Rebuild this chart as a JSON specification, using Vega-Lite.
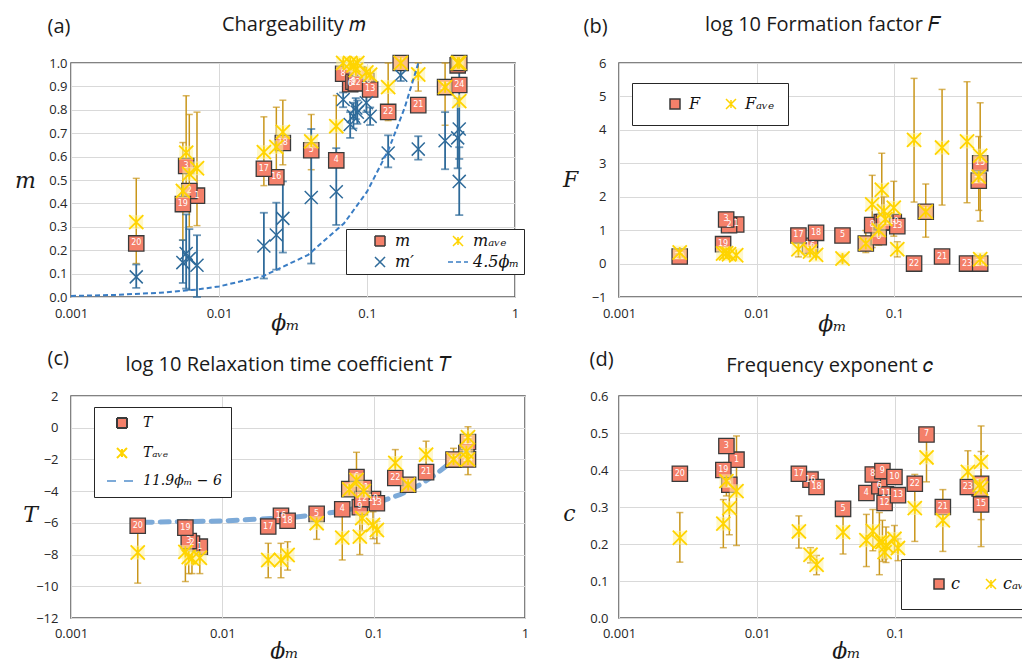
{
"$schema": "https://vega.github.io/schema/vega-lite/v6.json",
"background": "white",
"padding": {"left": 13, "top": 13, "right": 0, "bottom": 0},
"datasets": {
"s": [
{"id":"1","phi":0.0071,"m":0.433,"ma":0.55,"maL":0.305,"maH":0.79,"mp":0.136,"mpL":0.0,"mpH":0.264,"F":1.17,"Fa":0.25,"T":-7.5,"Ta":-8.2,"TaL":-9.2,"TaH":-7.5,"c":0.428,"ca":0.343,"caL":0.196,"caH":0.492},
{"id":"2","phi":0.0063,"m":0.453,"ma":0.526,"maL":0.3,"maH":0.78,"mp":0.164,"mpL":0.03,"mpH":0.29,"F":1.15,"Fa":0.28,"T":-7.3,"Ta":-8.25,"TaL":-9.2,"TaH":-7.3,"c":0.36,"ca":0.297,"caL":0.225,"caH":0.36},
{"id":"3","phi":0.006,"m":0.56,"ma":0.617,"maL":0.45,"maH":0.86,"mp":0.186,"mpL":0.036,"mpH":0.353,"F":1.32,"Fa":0.31,"T":-7.15,"Ta":-8.15,"TaL":-9.2,"TaH":-7.2,"c":0.465,"ca":0.37,"caL":0.33,"caH":0.42},
{"id":"4","phi":0.062,"m":0.584,"ma":0.73,"maL":0.594,"maH":0.861,"mp":0.45,"mpL":0.308,"mpH":0.636,"F":0.6,"Fa":0.6,"FaL":0.33,"FaH":0.99,"T":-5.14,"Ta":-6.93,"TaL":-8.34,"TaH":-5.4,"c":0.338,"ca":0.21,"caL":0.139,"caH":0.28},
{"id":"5","phi":0.042,"m":0.627,"ma":0.665,"maL":0.544,"maH":0.78,"mp":0.425,"mpL":0.143,"mpH":0.718,"F":0.84,"Fa":0.15,"FaL":0.05,"FaH":0.25,"T":-5.43,"Ta":-6.02,"TaL":-7.04,"TaH":-5.4,"c":0.295,"ca":0.232,"caL":0.173,"caH":0.295},
{"id":"6","phi":0.077,"m":0.909,"ma":1.0,"mp":0.737,"mpL":0.68,"mpH":0.79,"F":0.79,"Fa":1.0,"FaL":0.55,"FaH":1.45,"T":-3.11,"Ta":-3.3,"TaL":-5.0,"TaH":-1.55,"c":0.356,"ca":0.205,"caL":0.117,"caH":0.285},
{"id":"7","phi":0.169,"m":1.0,"ma":1.0,"mp":0.948,"mpL":0.923,"mpH":0.98,"F":1.55,"Fa":1.55,"FaL":0.79,"FaH":2.38,"T":-3.6,"Ta":-3.6,"c":0.496,"ca":0.434,"caL":0.368,"caH":0.5},
{"id":"8","phi":0.069,"m":0.954,"ma":1.0,"mp":0.844,"mpL":0.811,"mpH":0.874,"F":1.15,"Fa":1.77,"FaL":0.48,"FaH":2.64,"T":-3.87,"Ta":-3.9,"c":0.388,"ca":0.235,"caL":0.182,"caH":0.293},
{"id":"9","phi":0.081,"m":0.92,"ma":0.99,"mp":0.772,"mpL":0.72,"mpH":0.83,"F":1.24,"Fa":2.21,"FaL":1.0,"FaH":3.3,"T":-5.01,"Ta":-6.87,"TaL":-8.0,"TaH":-4.9,"c":0.397,"ca":0.205,"caL":0.153,"caH":0.264},
{"id":"10","phi":0.099,"m":0.923,"ma":0.96,"mp":0.83,"mpL":0.79,"mpH":0.87,"F":1.24,"Fa":1.67,"FaL":0.82,"FaH":2.46,"T":-4.5,"Ta":-6.13,"TaL":-7.0,"TaH":-5.3,"c":0.381,"ca":0.214,"caL":0.178,"caH":0.25},
{"id":"11","phi":0.086,"m":0.951,"ma":1.0,"mp":0.79,"mpL":0.74,"mpH":0.84,"F":1.24,"Fa":1.33,"T":-3.8,"Ta":-4.0,"c":0.334,"ca":0.196,"caL":0.15,"caH":0.246},
{"id":"12","phi":0.084,"m":0.913,"ma":0.97,"mp":0.808,"mpL":0.76,"mpH":0.85,"F":1.24,"Fa":1.57,"FaL":1.0,"FaH":2.0,"T":-4.5,"Ta":-5.7,"TaL":-6.5,"TaH":-4.2,"c":0.311,"ca":0.178,"caL":0.16,"caH":0.2},
{"id":"13","phi":0.105,"m":0.887,"ma":0.95,"mp":0.772,"mpL":0.735,"mpH":0.81,"F":1.12,"Fa":0.43,"FaL":0.2,"FaH":0.65,"T":-4.76,"Ta":-6.45,"TaL":-7.3,"TaH":-5.9,"c":0.332,"ca":0.189,"caL":0.155,"caH":0.214},
{"id":"14","phi":0.41,"m":0.99,"ma":1.0,"mp":0.68,"mpL":0.55,"mpH":0.85,"F":2.48,"Fa":2.6,"FaL":1.59,"FaH":3.8,"T":-1.6,"Ta":-1.5,"c":0.35,"ca":0.36},
{"id":"15","phi":0.42,"m":1.0,"ma":1.0,"mp":0.718,"mpL":0.59,"mpH":0.97,"F":3.0,"Fa":3.23,"FaL":1.27,"FaH":4.81,"T":-0.9,"Ta":-0.6,"TaL":-2.96,"TaH":0.06,"c":0.307,"ca":0.35,"caL":0.266,"caH":0.45},
{"id":"16","phi":0.0244,"m":0.512,"ma":0.641,"maL":0.5,"maH":0.811,"mp":0.265,"mpL":0.117,"mpH":0.403,"F":0.53,"Fa":0.36,"FaL":0.2,"FaH":0.5,"T":-5.56,"Ta":-8.34,"TaL":-9.46,"TaH":-7.29,"c":0.374,"ca":0.171,"caL":0.149,"caH":0.19},
{"id":"17","phi":0.0201,"m":0.548,"ma":0.619,"maL":0.476,"maH":0.77,"mp":0.218,"mpL":0.079,"mpH":0.36,"F":0.84,"Fa":0.43,"FaL":0.2,"FaH":0.6,"T":-6.23,"Ta":-8.34,"TaL":-9.46,"TaH":-7.29,"c":0.39,"ca":0.234,"caL":0.189,"caH":0.276},
{"id":"18","phi":0.027,"m":0.658,"ma":0.705,"maL":0.565,"maH":0.841,"mp":0.336,"mpL":0.19,"mpH":0.494,"F":0.92,"Fa":0.26,"FaL":0.2,"FaH":0.35,"T":-5.87,"Ta":-8.03,"TaL":-8.98,"TaH":-7.19,"c":0.354,"ca":0.144,"caL":0.117,"caH":0.169},
{"id":"19","phi":0.0057,"m":0.397,"ma":0.453,"maL":0.243,"maH":0.66,"mp":0.147,"mpL":0.06,"mpH":0.243,"F":0.58,"Fa":0.3,"T":-6.3,"Ta":-7.83,"TaL":-9.7,"TaH":-6.3,"c":0.4,"ca":0.255,"caL":0.19,"caH":0.32},
{"id":"20","phi":0.00276,"m":0.229,"ma":0.32,"maL":0.143,"maH":0.507,"mp":0.086,"mpL":0.039,"mpH":0.139,"F":0.21,"Fa":0.33,"T":-6.18,"Ta":-7.87,"TaL":-9.8,"TaH":-6.2,"c":0.39,"ca":0.217,"caL":0.151,"caH":0.285},
{"id":"21","phi":0.222,"m":0.82,"ma":0.951,"maL":0.88,"maH":1.0,"mp":0.632,"mpL":0.587,"mpH":0.687,"F":0.21,"Fa":3.47,"FaL":1.75,"FaH":5.21,"T":-2.8,"Ta":-1.7,"TaL":-2.54,"TaH":-0.85,"c":0.3,"ca":0.264,"caL":0.18,"caH":0.347},
{"id":"22","phi":0.139,"m":0.791,"ma":0.897,"maL":0.754,"maH":1.0,"mp":0.615,"mpL":0.554,"mpH":0.691,"F":0.0,"Fa":3.7,"FaL":1.84,"FaH":5.54,"T":-3.17,"Ta":-2.22,"TaL":-3.13,"TaH":-1.38,"c":0.363,"ca":0.297,"caL":0.207,"caH":0.388},
{"id":"23","phi":0.337,"m":0.897,"ma":0.897,"maL":0.734,"maH":1.0,"mp":0.668,"mpL":0.546,"mpH":0.79,"F":0.0,"Fa":3.65,"FaL":1.82,"FaH":5.44,"T":-2.01,"Ta":-2.0,"TaL":-2.4,"TaH":-1.3,"c":0.354,"ca":0.395,"caL":0.338,"caH":0.452},
{"id":"24","phi":0.42,"m":0.906,"ma":0.837,"mp":0.494,"mpL":0.35,"mpH":0.64,"F":0.0,"Fa":0.13,"T":-2.0,"Ta":-2.0,"c":0.363,"ca":0.422,"caL":0.193,"caH":0.519}
],
"la": [{"phi":0.001,"y":0.0045},{"phi":0.002,"y":0.009},{"phi":0.004,"y":0.018},{"phi":0.007,"y":0.0315},{"phi":0.01,"y":0.045},{"phi":0.02,"y":0.09},{"phi":0.04,"y":0.18},{"phi":0.07,"y":0.315},{"phi":0.1,"y":0.45},{"phi":0.14,"y":0.63},{"phi":0.18,"y":0.81},{"phi":0.222,"y":0.999}],
"lc": [{"phi":0.003,"y":-5.964},{"phi":0.01,"y":-5.881},{"phi":0.03,"y":-5.643},{"phi":0.06,"y":-5.286},{"phi":0.1,"y":-4.81},{"phi":0.15,"y":-4.215},{"phi":0.2,"y":-3.62},{"phi":0.25,"y":-3.025},{"phi":0.3,"y":-2.43},{"phi":0.36,"y":-1.716},{"phi":0.42,"y":-1.002}]
},
"config": {
"font": "Open Sans",
"view": {"stroke": "#595959", "strokeWidth": 1.5},
"axis": {"labelFont": "Open Sans", "labelFontSize": 13, "labelColor": "#262626", "ticks": false, "domain": false, "gridColor": "#D9D9D9", "titleFont": "DejaVu Serif", "titleFontStyle": "italic", "titleFontWeight": "normal", "titleFontSize": 22, "titleColor": "#1a1a1a"},
"legend": {"labelFont": "DejaVu Serif", "labelFontStyle": "italic", "labelColor": "#111111", "labelLimit": 250, "symbolStrokeWidth": 1.5, "symbolOpacity": 1}
},
"columns": 2,
"align": "each",
"spacing": {"row": 99, "column": 94},
"bounds": "flush",
"resolve": {"scale": {"shape": "independent", "fill": "independent", "stroke": "independent", "strokeDash": "independent"}, "legend": {"shape": "independent", "fill": "independent", "stroke": "independent", "strokeDash": "independent"}},
"concat": [
{"width": 444, "height": 234, "data": {"name": "s"},
 "resolve": {"axis": {"x": "independent", "y": "independent"}},
 "layer": [
  {"mark": {"type": "rule", "color": "#C9961A", "strokeWidth": 1.5},
   "encoding": {
    "x": {"field": "phi", "type": "quantitative", "scale": {"type": "log", "domain": [0.001, 1], "nice": false},
          "axis": {"values": [0.001, 0.01, 0.1, 1], "format": "~g", "labelFlush": false, "labelPadding": 10, "grid": true, "title": "ϕₘ", "titleX": 214, "titleY": 25, "titleAlign": "center", "titleBaseline": "middle"}},
    "y": {"field": "maL", "type": "quantitative", "scale": {"domain": [0, 1], "nice": false, "zero": false},
          "axis": {"values": [0, 0.1, 0.2, 0.3, 0.4, 0.5, 0.6, 0.7, 0.8, 0.9, 1], "format": ".1f", "labelPadding": 4, "grid": true, "title": "m", "titleAngle": 0, "titleX": -46, "titleY": 117, "titleAlign": "center", "titleBaseline": "middle"}},
    "y2": {"field": "maH"}}},
  {"mark": {"type": "tick", "orient": "horizontal", "color": "#C9961A", "size": 7, "thickness": 1.5},
   "encoding": {"x": {"field": "phi", "type": "quantitative", "scale": {"type": "log", "domain": [0.001, 1], "nice": false}, "axis": null},
    "y": {"field": "maL", "type": "quantitative", "scale": {"domain": [0, 1], "nice": false, "zero": false}, "axis": null}}},
  {"mark": {"type": "tick", "orient": "horizontal", "color": "#C9961A", "size": 7, "thickness": 1.5},
   "encoding": {"x": {"field": "phi", "type": "quantitative", "scale": {"type": "log", "domain": [0.001, 1], "nice": false}, "axis": null},
    "y": {"field": "maH", "type": "quantitative", "scale": {"domain": [0, 1], "nice": false, "zero": false}, "axis": null}}},
  {"mark": {"type": "rule", "color": "#2F6B9A", "strokeWidth": 1.8},
   "encoding": {"x": {"field": "phi", "type": "quantitative", "scale": {"type": "log", "domain": [0.001, 1], "nice": false}, "axis": null},
    "y": {"field": "mpL", "type": "quantitative", "scale": {"domain": [0, 1], "nice": false, "zero": false}, "axis": null},
    "y2": {"field": "mpH"}}},
  {"mark": {"type": "tick", "orient": "horizontal", "color": "#2F6B9A", "size": 8, "thickness": 1.8},
   "encoding": {"x": {"field": "phi", "type": "quantitative", "scale": {"type": "log", "domain": [0.001, 1], "nice": false}, "axis": null},
    "y": {"field": "mpL", "type": "quantitative", "scale": {"domain": [0, 1], "nice": false, "zero": false}, "axis": null}}},
  {"mark": {"type": "tick", "orient": "horizontal", "color": "#2F6B9A", "size": 8, "thickness": 1.8},
   "encoding": {"x": {"field": "phi", "type": "quantitative", "scale": {"type": "log", "domain": [0.001, 1], "nice": false}, "axis": null},
    "y": {"field": "mpH", "type": "quantitative", "scale": {"domain": [0, 1], "nice": false, "zero": false}, "axis": null}}},
  {"mark": {"type": "point", "filled": true, "strokeWidth": 1.3, "size": 235, "opacity": 1},
   "encoding": {"x": {"field": "phi", "type": "quantitative", "scale": {"type": "log", "domain": [0.001, 1], "nice": false},
          "axis": {"orient": "top", "labels": false, "ticks": false, "domain": false, "grid": false, "title": "Chargeability 𝑚", "titleFont": "Open Sans", "titleFontStyle": "normal", "titleFontSize": 20, "titleX": 222, "titleY": -39, "titleAlign": "center", "titleBaseline": "middle"}},
    "y": {"field": "m", "type": "quantitative", "scale": {"domain": [0, 1], "nice": false, "zero": false},
          "axis": {"orient": "right", "labels": false, "ticks": false, "domain": false, "grid": false, "title": "(a)", "titleFont": "Open Sans", "titleFontStyle": "normal", "titleFontSize": 20, "titleAngle": 0, "titleX": -468, "titleY": -37, "titleAlign": "left", "titleBaseline": "middle"}},
    "fill": {"datum": "m", "type": "nominal", "scale": {"domain": ["m", "m′", "mₐᵥₑ", "4.5ϕₘ"], "range": ["#F4806A", "transparent", "transparent", "transparent"]}, "legend": {"title": null}},
    "stroke": {"datum": "m", "type": "nominal", "scale": {"domain": ["m", "m′", "mₐᵥₑ", "4.5ϕₘ"], "range": ["#3a3a3a", "#2F6B9A", "#FFD400", "#3A7DC4"]}, "legend": {"title": null}},
    "shape": {"datum": "m", "type": "nominal", "scale": {"domain": ["m", "m′", "mₐᵥₑ", "4.5ϕₘ"], "range": ["square", "M-1,-1L1,1M-1,1L1,-1", "M-1,-1L1,1M-1,1L1,-1M0,-0.8L0,0.8", "M-2,0L2,0"]},
      "legend": {"title": null, "orient": "none", "legendX": 275, "legendY": 166, "columns": 2, "padding": 4, "symbolOffset": 22, "labelOffset": 7, "columnPadding": 14, "rowPadding": 5, "symbolSize": 100, "labelFontSize": 16, "fillColor": "white", "strokeColor": "#262626"}}}},
  {"mark": {"type": "point", "filled": false, "strokeWidth": 1.5, "size": 170, "opacity": 1},
   "encoding": {"x": {"field": "phi", "type": "quantitative", "scale": {"type": "log", "domain": [0.001, 1], "nice": false}, "axis": null},
    "y": {"field": "mp", "type": "quantitative", "scale": {"domain": [0, 1], "nice": false, "zero": false}, "axis": null},
    "stroke": {"datum": "m′", "type": "nominal", "scale": {"domain": ["m", "m′", "mₐᵥₑ", "4.5ϕₘ"], "range": ["#3a3a3a", "#2F6B9A", "#FFD400", "#3A7DC4"]}, "legend": {"title": null}},
    "shape": {"datum": "m′", "type": "nominal", "scale": {"domain": ["m", "m′", "mₐᵥₑ", "4.5ϕₘ"], "range": ["square", "M-1,-1L1,1M-1,1L1,-1", "M-1,-1L1,1M-1,1L1,-1M0,-0.8L0,0.8", "M-2,0L2,0"]}, "legend": {"title": null}}}},
  {"mark": {"type": "text", "color": "#FFFFFF", "fontSize": 8, "font": "DejaVu Sans", "align": "center", "baseline": "middle"},
   "encoding": {"x": {"field": "phi", "type": "quantitative", "scale": {"type": "log", "domain": [0.001, 1], "nice": false}, "axis": null},
    "y": {"field": "m", "type": "quantitative", "scale": {"domain": [0, 1], "nice": false, "zero": false}, "axis": null},
    "text": {"field": "id"}}},
  {"mark": {"type": "square", "color": "#FFF2A0", "opacity": 0.55, "size": 190},
   "encoding": {"x": {"field": "phi", "type": "quantitative", "scale": {"type": "log", "domain": [0.001, 1], "nice": false}, "axis": null},
    "y": {"field": "ma", "type": "quantitative", "scale": {"domain": [0, 1], "nice": false, "zero": false}, "axis": null}}},
  {"mark": {"type": "point", "filled": false, "strokeWidth": 1.8, "size": 200, "opacity": 1},
   "encoding": {"x": {"field": "phi", "type": "quantitative", "scale": {"type": "log", "domain": [0.001, 1], "nice": false}, "axis": null},
    "y": {"field": "ma", "type": "quantitative", "scale": {"domain": [0, 1], "nice": false, "zero": false}, "axis": null},
    "stroke": {"datum": "mₐᵥₑ", "type": "nominal", "scale": {"domain": ["m", "m′", "mₐᵥₑ", "4.5ϕₘ"], "range": ["#3a3a3a", "#2F6B9A", "#FFD400", "#3A7DC4"]}, "legend": {"title": null}},
    "shape": {"datum": "mₐᵥₑ", "type": "nominal", "scale": {"domain": ["m", "m′", "mₐᵥₑ", "4.5ϕₘ"], "range": ["square", "M-1,-1L1,1M-1,1L1,-1", "M-1,-1L1,1M-1,1L1,-1M0,-0.8L0,0.8", "M-2,0L2,0"]}, "legend": {"title": null}}}},
  {"data": {"name": "la"},
   "mark": {"type": "line", "strokeWidth": 2},
   "encoding": {"x": {"field": "phi", "type": "quantitative", "scale": {"type": "log", "domain": [0.001, 1], "nice": false}, "axis": null},
    "y": {"field": "y", "type": "quantitative", "scale": {"domain": [0, 1], "nice": false, "zero": false}, "axis": null},
    "stroke": {"datum": "4.5ϕₘ", "type": "nominal", "scale": {"domain": ["m", "m′", "mₐᵥₑ", "4.5ϕₘ"], "range": ["#3a3a3a", "#2F6B9A", "#FFD400", "#3A7DC4"]}, "legend": {"title": null}},
    "strokeDash": {"datum": "4.5ϕₘ", "type": "nominal", "scale": {"domain": ["m", "m′", "mₐᵥₑ", "4.5ϕₘ"], "range": [[1, 0], [1, 0], [1, 0], [5, 3]]}, "legend": {"title": null}}}}
 ]},
{"width": 410, "height": 234, "data": {"name": "s"},
 "resolve": {"axis": {"x": "independent", "y": "independent"}},
 "layer": [
  {"mark": {"type": "rule", "color": "#C9961A", "strokeWidth": 1.5},
   "encoding": {
    "x": {"field": "phi", "type": "quantitative", "scale": {"type": "log", "domain": [0.001, 0.95], "nice": false},
          "axis": {"values": [0.001, 0.01, 0.1], "format": "~g", "labelFlush": false, "labelPadding": 10, "grid": true, "title": "ϕₘ", "titleX": 213, "titleY": 26, "titleAlign": "center", "titleBaseline": "middle"}},
    "y": {"field": "FaL", "type": "quantitative", "scale": {"domain": [-1, 6], "nice": false, "zero": false},
          "axis": {"values": [-1, 0, 1, 2, 3, 4, 5, 6], "format": "d", "labelPadding": 13, "grid": true, "title": "F", "titleAngle": 0, "titleX": -49, "titleY": 116, "titleAlign": "center", "titleBaseline": "middle"}},
    "y2": {"field": "FaH"}}},
  {"mark": {"type": "tick", "orient": "horizontal", "color": "#C9961A", "size": 7, "thickness": 1.5},
   "encoding": {"x": {"field": "phi", "type": "quantitative", "scale": {"type": "log", "domain": [0.001, 0.95], "nice": false}, "axis": null},
    "y": {"field": "FaL", "type": "quantitative", "scale": {"domain": [-1, 6], "nice": false, "zero": false}, "axis": null}}},
  {"mark": {"type": "tick", "orient": "horizontal", "color": "#C9961A", "size": 7, "thickness": 1.5},
   "encoding": {"x": {"field": "phi", "type": "quantitative", "scale": {"type": "log", "domain": [0.001, 0.95], "nice": false}, "axis": null},
    "y": {"field": "FaH", "type": "quantitative", "scale": {"domain": [-1, 6], "nice": false, "zero": false}, "axis": null}}},
  {"mark": {"type": "point", "filled": true, "strokeWidth": 1.3, "size": 235, "opacity": 1},
   "encoding": {"x": {"field": "phi", "type": "quantitative", "scale": {"type": "log", "domain": [0.001, 0.95], "nice": false},
          "axis": {"orient": "top", "labels": false, "ticks": false, "domain": false, "grid": false, "title": "log 10 Formation factor 𝐹", "titleFont": "Open Sans", "titleFontStyle": "normal", "titleFontSize": 20, "titleX": 203, "titleY": -39, "titleAlign": "center", "titleBaseline": "middle"}},
    "y": {"field": "F", "type": "quantitative", "scale": {"domain": [-1, 6], "nice": false, "zero": false},
          "axis": {"orient": "right", "labels": false, "ticks": false, "domain": false, "grid": false, "title": "(b)", "titleFont": "Open Sans", "titleFontStyle": "normal", "titleFontSize": 20, "titleAngle": 0, "titleX": -446, "titleY": -37, "titleAlign": "left", "titleBaseline": "middle"}},
    "fill": {"datum": "F", "type": "nominal", "scale": {"domain": ["F", "Fₐᵥₑ"], "range": ["#F4806A", "transparent"]}, "legend": {"title": null}},
    "stroke": {"datum": "F", "type": "nominal", "scale": {"domain": ["F", "Fₐᵥₑ"], "range": ["#3a3a3a", "#FFD400"]}, "legend": {"title": null}},
    "shape": {"datum": "F", "type": "nominal", "scale": {"domain": ["F", "Fₐᵥₑ"], "range": ["square", "M-1,-1L1,1M-1,1L1,-1M0,-0.8L0,0.8"]},
      "legend": {"title": null, "orient": "none", "legendX": 13, "legendY": 20, "columns": 2, "padding": 13, "symbolOffset": 22, "labelOffset": 6, "columnPadding": 0, "symbolSize": 100, "labelFontSize": 16, "fillColor": "white", "strokeColor": "#262626"}}}},
  {"mark": {"type": "text", "color": "#FFFFFF", "fontSize": 8, "font": "DejaVu Sans", "align": "center", "baseline": "middle"},
   "encoding": {"x": {"field": "phi", "type": "quantitative", "scale": {"type": "log", "domain": [0.001, 0.95], "nice": false}, "axis": null},
    "y": {"field": "F", "type": "quantitative", "scale": {"domain": [-1, 6], "nice": false, "zero": false}, "axis": null},
    "text": {"field": "id"}}},
  {"mark": {"type": "square", "color": "#FFF2A0", "opacity": 0.55, "size": 190},
   "encoding": {"x": {"field": "phi", "type": "quantitative", "scale": {"type": "log", "domain": [0.001, 0.95], "nice": false}, "axis": null},
    "y": {"field": "Fa", "type": "quantitative", "scale": {"domain": [-1, 6], "nice": false, "zero": false}, "axis": null}}},
  {"mark": {"type": "point", "filled": false, "strokeWidth": 1.8, "size": 200, "opacity": 1},
   "encoding": {"x": {"field": "phi", "type": "quantitative", "scale": {"type": "log", "domain": [0.001, 0.95], "nice": false}, "axis": null},
    "y": {"field": "Fa", "type": "quantitative", "scale": {"domain": [-1, 6], "nice": false, "zero": false}, "axis": null},
    "stroke": {"datum": "Fₐᵥₑ", "type": "nominal", "scale": {"domain": ["F", "Fₐᵥₑ"], "range": ["#3a3a3a", "#FFD400"]}, "legend": {"title": null}},
    "shape": {"datum": "Fₐᵥₑ", "type": "nominal", "scale": {"domain": ["F", "Fₐᵥₑ"], "range": ["square", "M-1,-1L1,1M-1,1L1,-1M0,-0.8L0,0.8"]}, "legend": {"title": null}}}}
 ]},
{"width": 454, "height": 222, "data": {"name": "s"},
 "resolve": {"axis": {"x": "independent", "y": "independent"}},
 "layer": [
  {"mark": {"type": "rule", "color": "#C9961A", "strokeWidth": 1.5},
   "encoding": {
    "x": {"field": "phi", "type": "quantitative", "scale": {"type": "log", "domain": [0.001, 1], "nice": false},
          "axis": {"values": [0.001, 0.01, 0.1, 1], "format": "~g", "labelFlush": false, "labelPadding": 9, "grid": true, "title": "ϕₘ", "titleX": 213, "titleY": 32, "titleAlign": "center", "titleBaseline": "middle"}},
    "y": {"field": "TaL", "type": "quantitative", "scale": {"domain": [-12, 2], "nice": false, "zero": false},
          "axis": {"values": [-12, -10, -8, -6, -4, -2, 0, 2], "format": "d", "labelPadding": 13, "grid": true, "title": "T", "titleAngle": 0, "titleX": -41, "titleY": 118, "titleAlign": "center", "titleBaseline": "middle"}},
    "y2": {"field": "TaH"}}},
  {"mark": {"type": "tick", "orient": "horizontal", "color": "#C9961A", "size": 7, "thickness": 1.5},
   "encoding": {"x": {"field": "phi", "type": "quantitative", "scale": {"type": "log", "domain": [0.001, 1], "nice": false}, "axis": null},
    "y": {"field": "TaL", "type": "quantitative", "scale": {"domain": [-12, 2], "nice": false, "zero": false}, "axis": null}}},
  {"mark": {"type": "tick", "orient": "horizontal", "color": "#C9961A", "size": 7, "thickness": 1.5},
   "encoding": {"x": {"field": "phi", "type": "quantitative", "scale": {"type": "log", "domain": [0.001, 1], "nice": false}, "axis": null},
    "y": {"field": "TaH", "type": "quantitative", "scale": {"domain": [-12, 2], "nice": false, "zero": false}, "axis": null}}},
  {"data": {"name": "lc"},
   "mark": {"type": "line", "strokeWidth": 5, "strokeCap": "round"},
   "encoding": {"x": {"field": "phi", "type": "quantitative", "scale": {"type": "log", "domain": [0.001, 1], "nice": false}, "axis": null},
    "y": {"field": "y", "type": "quantitative", "scale": {"domain": [-12, 2], "nice": false, "zero": false}, "axis": null},
    "stroke": {"datum": "11.9ϕₘ − 6", "type": "nominal", "scale": {"domain": ["T", "Tₐᵥₑ", "11.9ϕₘ − 6"], "range": ["#3a3a3a", "#FFD400", "#7DAAD8"]}, "legend": {"title": null}},
    "strokeDash": {"datum": "11.9ϕₘ − 6", "type": "nominal", "scale": {"domain": ["T", "Tₐᵥₑ", "11.9ϕₘ − 6"], "range": [[1, 0], [1, 0], [9, 8]]}, "legend": {"title": null}}}},
  {"mark": {"type": "point", "filled": true, "strokeWidth": 1.3, "size": 235, "opacity": 1},
   "encoding": {"x": {"field": "phi", "type": "quantitative", "scale": {"type": "log", "domain": [0.001, 1], "nice": false},
          "axis": {"orient": "top", "labels": false, "ticks": false, "domain": false, "grid": false, "title": "log 10 Relaxation time coefficient 𝑇", "titleFont": "Open Sans", "titleFontStyle": "normal", "titleFontSize": 20, "titleX": 217, "titleY": -32, "titleAlign": "center", "titleBaseline": "middle"}},
    "y": {"field": "T", "type": "quantitative", "scale": {"domain": [-12, 2], "nice": false, "zero": false},
          "axis": {"orient": "right", "labels": false, "ticks": false, "domain": false, "grid": false, "title": "(c)", "titleFont": "Open Sans", "titleFontStyle": "normal", "titleFontSize": 20, "titleAngle": 0, "titleX": -478, "titleY": -38, "titleAlign": "left", "titleBaseline": "middle"}},
    "fill": {"datum": "T", "type": "nominal", "scale": {"domain": ["T", "Tₐᵥₑ", "11.9ϕₘ − 6"], "range": ["#F4806A", "transparent", "transparent"]}, "legend": {"title": null}},
    "stroke": {"datum": "T", "type": "nominal", "scale": {"domain": ["T", "Tₐᵥₑ", "11.9ϕₘ − 6"], "range": ["#3a3a3a", "#FFD400", "#7DAAD8"]}, "legend": {"title": null}},
    "shape": {"datum": "T", "type": "nominal", "scale": {"domain": ["T", "Tₐᵥₑ", "11.9ϕₘ − 6"], "range": ["square", "M-1,-1L1,1M-1,1L1,-1M0,-0.8L0,0.8", "M-3,0L3,0"]},
      "legend": {"title": null, "orient": "none", "legendX": 23, "legendY": 11, "columns": 1, "padding": 9, "symbolOffset": 12, "labelOffset": 14, "rowPadding": 12, "symbolSize": 100, "symbolStrokeWidth": 2, "labelFontSize": 14, "fillColor": "white", "strokeColor": "#262626"}}}},
  {"mark": {"type": "text", "color": "#FFFFFF", "fontSize": 8, "font": "DejaVu Sans", "align": "center", "baseline": "middle"},
   "encoding": {"x": {"field": "phi", "type": "quantitative", "scale": {"type": "log", "domain": [0.001, 1], "nice": false}, "axis": null},
    "y": {"field": "T", "type": "quantitative", "scale": {"domain": [-12, 2], "nice": false, "zero": false}, "axis": null},
    "text": {"field": "id"}}},
  {"mark": {"type": "square", "color": "#FFF2A0", "opacity": 0.55, "size": 190},
   "encoding": {"x": {"field": "phi", "type": "quantitative", "scale": {"type": "log", "domain": [0.001, 1], "nice": false}, "axis": null},
    "y": {"field": "Ta", "type": "quantitative", "scale": {"domain": [-12, 2], "nice": false, "zero": false}, "axis": null}}},
  {"mark": {"type": "point", "filled": false, "strokeWidth": 1.8, "size": 200, "opacity": 1},
   "encoding": {"x": {"field": "phi", "type": "quantitative", "scale": {"type": "log", "domain": [0.001, 1], "nice": false}, "axis": null},
    "y": {"field": "Ta", "type": "quantitative", "scale": {"domain": [-12, 2], "nice": false, "zero": false}, "axis": null},
    "stroke": {"datum": "Tₐᵥₑ", "type": "nominal", "scale": {"domain": ["T", "Tₐᵥₑ", "11.9ϕₘ − 6"], "range": ["#3a3a3a", "#FFD400", "#7DAAD8"]}, "legend": {"title": null}},
    "shape": {"datum": "Tₐᵥₑ", "type": "nominal", "scale": {"domain": ["T", "Tₐᵥₑ", "11.9ϕₘ − 6"], "range": ["square", "M-1,-1L1,1M-1,1L1,-1M0,-0.8L0,0.8", "M-3,0L3,0"]}, "legend": {"title": null}}}}
 ]},
{"width": 411, "height": 222, "data": {"name": "s"},
 "resolve": {"axis": {"x": "independent", "y": "independent"}},
 "layer": [
  {"mark": {"type": "rule", "color": "#C9961A", "strokeWidth": 1.5},
   "encoding": {
    "x": {"field": "phi", "type": "quantitative", "scale": {"type": "log", "domain": [0.001, 0.95], "nice": false},
          "axis": {"values": [0.001, 0.01, 0.1], "format": "~g", "labelFlush": false, "labelPadding": 9, "grid": true, "title": "ϕₘ", "titleX": 227, "titleY": 32, "titleAlign": "center", "titleBaseline": "middle"}},
    "y": {"field": "caL", "type": "quantitative", "scale": {"domain": [0, 0.6], "nice": false, "zero": false},
          "axis": {"values": [0, 0.1, 0.2, 0.3, 0.4, 0.5, 0.6], "format": ".1f", "labelPadding": 11, "grid": true, "title": "c", "titleAngle": 0, "titleX": -50, "titleY": 117, "titleAlign": "center", "titleBaseline": "middle"}},
    "y2": {"field": "caH"}}},
  {"mark": {"type": "tick", "orient": "horizontal", "color": "#C9961A", "size": 7, "thickness": 1.5},
   "encoding": {"x": {"field": "phi", "type": "quantitative", "scale": {"type": "log", "domain": [0.001, 0.95], "nice": false}, "axis": null},
    "y": {"field": "caL", "type": "quantitative", "scale": {"domain": [0, 0.6], "nice": false, "zero": false}, "axis": null}}},
  {"mark": {"type": "tick", "orient": "horizontal", "color": "#C9961A", "size": 7, "thickness": 1.5},
   "encoding": {"x": {"field": "phi", "type": "quantitative", "scale": {"type": "log", "domain": [0.001, 0.95], "nice": false}, "axis": null},
    "y": {"field": "caH", "type": "quantitative", "scale": {"domain": [0, 0.6], "nice": false, "zero": false}, "axis": null}}},
  {"mark": {"type": "point", "filled": true, "strokeWidth": 1.3, "size": 235, "opacity": 1},
   "encoding": {"x": {"field": "phi", "type": "quantitative", "scale": {"type": "log", "domain": [0.001, 0.95], "nice": false},
          "axis": {"orient": "top", "labels": false, "ticks": false, "domain": false, "grid": false, "title": "Frequency exponent 𝑐", "titleFont": "Open Sans", "titleFontStyle": "normal", "titleFontSize": 20, "titleX": 210, "titleY": -31, "titleAlign": "center", "titleBaseline": "middle"}},
    "y": {"field": "c", "type": "quantitative", "scale": {"domain": [0, 0.6], "nice": false, "zero": false},
          "axis": {"orient": "right", "labels": false, "ticks": false, "domain": false, "grid": false, "title": "(d)", "titleFont": "Open Sans", "titleFontStyle": "normal", "titleFontSize": 20, "titleAngle": 0, "titleX": -441, "titleY": -37, "titleAlign": "left", "titleBaseline": "middle"}},
    "fill": {"datum": "c", "type": "nominal", "scale": {"domain": ["c", "cₐᵥₑ"], "range": ["#F4806A", "transparent"]}, "legend": {"title": null}},
    "stroke": {"datum": "c", "type": "nominal", "scale": {"domain": ["c", "cₐᵥₑ"], "range": ["#3a3a3a", "#FFD400"]}, "legend": {"title": null}},
    "shape": {"datum": "c", "type": "nominal", "scale": {"domain": ["c", "cₐᵥₑ"], "range": ["square", "M-1,-1L1,1M-1,1L1,-1M0,-0.8L0,0.8"]},
      "legend": {"title": null, "orient": "none", "legendX": 282, "legendY": 163, "columns": 2, "padding": 17, "symbolOffset": 13, "labelOffset": 4, "columnPadding": 10, "symbolSize": 100, "labelFontSize": 16, "fillColor": "white", "strokeColor": "#262626"}}}},
  {"mark": {"type": "text", "color": "#FFFFFF", "fontSize": 8, "font": "DejaVu Sans", "align": "center", "baseline": "middle"},
   "encoding": {"x": {"field": "phi", "type": "quantitative", "scale": {"type": "log", "domain": [0.001, 0.95], "nice": false}, "axis": null},
    "y": {"field": "c", "type": "quantitative", "scale": {"domain": [0, 0.6], "nice": false, "zero": false}, "axis": null},
    "text": {"field": "id"}}},
  {"mark": {"type": "square", "color": "#FFF2A0", "opacity": 0.55, "size": 190},
   "encoding": {"x": {"field": "phi", "type": "quantitative", "scale": {"type": "log", "domain": [0.001, 0.95], "nice": false}, "axis": null},
    "y": {"field": "ca", "type": "quantitative", "scale": {"domain": [0, 0.6], "nice": false, "zero": false}, "axis": null}}},
  {"mark": {"type": "point", "filled": false, "strokeWidth": 1.8, "size": 200, "opacity": 1},
   "encoding": {"x": {"field": "phi", "type": "quantitative", "scale": {"type": "log", "domain": [0.001, 0.95], "nice": false}, "axis": null},
    "y": {"field": "ca", "type": "quantitative", "scale": {"domain": [0, 0.6], "nice": false, "zero": false}, "axis": null},
    "stroke": {"datum": "cₐᵥₑ", "type": "nominal", "scale": {"domain": ["c", "cₐᵥₑ"], "range": ["#3a3a3a", "#FFD400"]}, "legend": {"title": null}},
    "shape": {"datum": "cₐᵥₑ", "type": "nominal", "scale": {"domain": ["c", "cₐᵥₑ"], "range": ["square", "M-1,-1L1,1M-1,1L1,-1M0,-0.8L0,0.8"]}, "legend": {"title": null}}}}
 ]}
]
}
